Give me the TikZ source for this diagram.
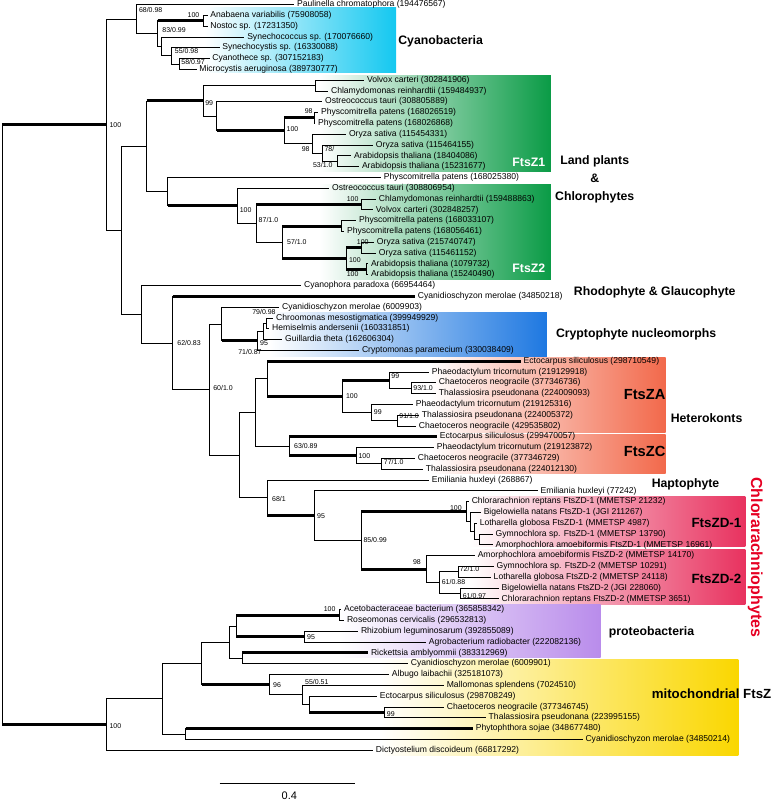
\documentclass[tikz,border=0pt]{standalone}
\usepackage{fontspec}
\setmainfont{Liberation Sans}
\definecolor{cyanobox}{RGB}{20,200,240}
\definecolor{plantbox}{RGB}{10,155,70}
\definecolor{cryptobox}{RGB}{30,120,225}
\definecolor{heterobox}{RGB}{242,105,75}
\definecolor{chlorabox}{RGB}{232,50,95}
\definecolor{proteobox}{RGB}{185,140,235}
\definecolor{mitobox}{RGB}{250,215,0}
\definecolor{chlorared}{RGB}{230,0,35}

\begin{document}
\begin{tikzpicture}[x=1pt, y=-10.83pt,
    font=\fontsize{8.6}{10}\selectfont,
    br/.style={line width=0.75pt},
    thk/.style={line width=3pt},
    leaf/.style={anchor=west, inner xsep=2.6pt, inner ysep=0.5pt},
    bs/.style={font=\fontsize{7}{8}\selectfont, inner sep=0.6pt},
    grp/.style={font=\bfseries\fontsize{12.3}{18}\selectfont, inner sep=0pt},
    big/.style={font=\bfseries\fontsize{14.7}{16}\selectfont, inner sep=0pt},
  ]
  % group boxes (pixel units)
  \begin{scope}[y=-1pt, yshift=4pt]
    \useasboundingbox (0,0) rectangle (778,803);
    \shade[left color=white, right color=cyanobox] (205,7) rectangle (397,72);
    \shade[left color=white, right color=plantbox] (320,75) rectangle (552,171);
    \shade[left color=white, right color=plantbox] (320,184) rectangle (552,280);
    \shade[left color=white, right color=cryptobox] (270,313) rectangle (548,357);
    \shade[left color=white, right color=heterobox] (430,358) rectangle (667,433);
    \shade[left color=white, right color=heterobox] (430,435) rectangle (667,474);
    \shade[left color=white, right color=chlorabox] (470,497) rectangle (747,547);
    \shade[left color=white, right color=chlorabox] (470,550) rectangle (747,605);
    \shade[left color=white, right color=proteobox] (340,605) rectangle (602,658);
    \shade[left color=white, right color=mitobox] (380,660) rectangle (740,757);
  \end{scope}

  % leaves
  \node[leaf] (l0) at (295,0) {Paulinella chromatophora (194476567)};
  \node[leaf] (l1) at (208,1) {Anabaena variabilis (75908058)};
  \node[leaf] (l2) at (208,2) {Nostoc sp. (17231350)};
  \node[leaf] (l3) at (245,3) {Synechococcus sp. (170076660)};
  \node[leaf] (l4) at (220,4) {Synechocystis sp. (16330088)};
  \node[leaf] (l5) at (210,5) {Cyanothece sp. (307152183)};
  \node[leaf] (l6) at (197,6) {Microcystis aeruginosa (389730777)};
  \node[leaf] (l7) at (365,7) {Volvox carteri (302841906)};
  \node[leaf] (l8) at (329,8) {Chlamydomonas reinhardtii (159484937)};
  \node[leaf] (l9) at (323,9) {Ostreococcus tauri (308805889)};
  \node[leaf] (l10) at (319,10) {Physcomitrella patens (168026519)};
  \node[leaf] (l11) at (316,11) {Physcomitrella patens (168026868)};
  \node[leaf] (l12) at (347,12) {Oryza sativa (115454331)};
  \node[leaf] (l13) at (374,13) {Oryza sativa (115464155)};
  \node[leaf] (l14) at (352,14) {Arabidopsis thaliana (18404086)};
  \node[leaf] (l15) at (360,15) {Arabidopsis thaliana (15231677)};
  \node[leaf] (l16) at (382,16) {Physcomitrella patens (168025380)};
  \node[leaf] (l17) at (330,17) {Ostreococcus tauri (308806954)};
  \node[leaf] (l18) at (377,18) {Chlamydomonas reinhardtii (159488863)};
  \node[leaf] (l19) at (374,19) {Volvox carteri (302848257)};
  \node[leaf] (l20) at (357,20) {Physcomitrella patens (168033107)};
  \node[leaf] (l21) at (345,21) {Physcomitrella patens (168056461)};
  \node[leaf] (l22) at (375,22) {Oryza sativa (215740747)};
  \node[leaf] (l23) at (377,23) {Oryza sativa (115461152)};
  \node[leaf] (l24) at (369,24) {Arabidopsis thaliana (1079732)};
  \node[leaf] (l25) at (369,25) {Arabidopsis thaliana (15240490)};
  \node[leaf] (l26) at (302,26) {Cyanophora paradoxa (66954464)};
  \node[leaf] (l27) at (416,27) {Cyanidioschyzon merolae (34850218)};
  \node[leaf] (l28) at (280,28) {Cyanidioschyzon merolae (6009903)};
  \node[leaf] (l29) at (274,29) {Chroomonas mesostigmatica (399949929)};
  \node[leaf] (l30) at (270,30) {Hemiselmis andersenii (160331851)};
  \node[leaf] (l31) at (283,31) {Guillardia theta (162606304)};
  \node[leaf] (l32) at (360,32) {Cryptomonas paramecium (330038409)};
  \node[leaf] (l33) at (522,33) {Ectocarpus siliculosus (298710549)};
  \node[leaf] (l34) at (430,34) {Phaeodactylum tricornutum (219129918)};
  \node[leaf] (l35) at (437,35) {Chaetoceros neogracile (377346736)};
  \node[leaf] (l36) at (437,36) {Thalassiosira pseudonana (224009093)};
  \node[leaf] (l37) at (414,37) {Phaeodactylum tricornutum (219125316)};
  \node[leaf] (l38) at (420,38) {Thalassiosira pseudonana (224005372)};
  \node[leaf] (l39) at (417,39) {Chaetoceros neogracile (429535802)};
  \node[leaf] (l40) at (438,40) {Ectocarpus siliculosus (299470057)};
  \node[leaf] (l41) at (435,41) {Phaeodactylum tricornutum (219123872)};
  \node[leaf] (l42) at (416,42) {Chaetoceros neogracile (377346729)};
  \node[leaf] (l43) at (424,43) {Thalassiosira pseudonana (224012130)};
  \node[leaf] (l44) at (430,44) {Emiliania huxleyi (268867)};
  \node[leaf] (l45) at (539,45) {Emiliania huxleyi (77242)};
  \node[leaf] (l46) at (470,46) {Chlorarachnion reptans FtsZD-1 (MMETSP 21232)};
  \node[leaf] (l47) at (482,47) {Bigelowiella natans FtsZD-1 (JGI 211267)};
  \node[leaf] (l48) at (478,48) {Lotharella globosa FtsZD-1 (MMETSP 4987)};
  \node[leaf] (l49) at (494,49) {Gymnochlora sp. FtsZD-1 (MMETSP 13790)};
  \node[leaf] (l50) at (494,50) {Amorphochlora amoebiformis FtsZD-1 (MMETSP 16961)};
  \node[leaf] (l51) at (476,51) {Amorphochlora amoebiformis FtsZD-2 (MMETSP 14170)};
  \node[leaf] (l52) at (495,52) {Gymnochlora sp. FtsZD-2 (MMETSP 10291)};
  \node[leaf] (l53) at (492,53) {Lotharella globosa FtsZD-2 (MMETSP 24118)};
  \node[leaf] (l54) at (500,54) {Bigelowiella natans FtsZD-2 (JGI 228060)};
  \node[leaf] (l55) at (500,55) {Chlorarachnion reptans FtsZD-2 (MMETSP 3651)};
  \node[leaf] (l56) at (342,56) {Acetobacteraceae bacterium (365858342)};
  \node[leaf] (l57) at (345,57) {Roseomonas cervicalis (296532813)};
  \node[leaf] (l58) at (359,58) {Rhizobium leguminosarum (392855089)};
  \node[leaf] (l59) at (427,59) {Agrobacterium radiobacter (222082136)};
  \node[leaf] (l60) at (369,60) {Rickettsia amblyommii (383312969)};
  \node[leaf] (l61) at (409,61) {Cyanidioschyzon merolae (6009901)};
  \node[leaf] (l62) at (390,62) {Albugo laibachii (325181073)};
  \node[leaf] (l63) at (445,63) {Mallomonas splendens (7024510)};
  \node[leaf] (l64) at (378,64) {Ectocarpus siliculosus (298708249)};
  \node[leaf] (l65) at (445,65) {Chaetoceros neogracile (377346745)};
  \node[leaf] (l66) at (487,66) {Thalassiosira pseudonana (223995155)};
  \node[leaf] (l67) at (474,67) {Phytophthora sojae (348677480)};
  \node[leaf] (l68) at (584,68) {Cyanidioschyzon merolae (34850214)};
  \node[leaf] (l69) at (374,69) {Dictyostelium discoideum (66817292)};

  % inner nodes
  \coordinate (root) at (2,38.866);
  \coordinate (nA) at (107,11.1156);
  \coordinate (nCY) at (137,1.34375);
  \coordinate (nC2) at (158,2.6875);
  \coordinate (nAN) at (204,1.5);
  \coordinate (nC3) at (162,3.875);
  \coordinate (nC4) at (172,4.75);
  \coordinate (nC5) at (180,5.5);
  \coordinate (nP) at (122,20.8875);
  \coordinate (nL) at (147,13.117);
  \coordinate (nF1) at (204,8.9219);
  \coordinate (nVC) at (316,7.5);
  \coordinate (nO) at (217,10.3438);
  \coordinate (nM) at (285,11.6875);
  \coordinate (nPP) at (315,10.5);
  \coordinate (nOA) at (313,12.875);
  \coordinate (nZ) at (323,13.75);
  \coordinate (nAR) at (338,14.5);
  \coordinate (nF2) at (168,17.3125);
  \coordinate (nG) at (238,18.625);
  \coordinate (nH) at (257,20.25);
  \coordinate (nCV) at (362,18.5);
  \coordinate (nK) at (283,22);
  \coordinate (nPP2) at (342,20.5);
  \coordinate (nOA2) at (347,23.5);
  \coordinate (nOR2) at (362,22.5);
  \coordinate (nAR2) at (367,24.5);
  \coordinate (nR) at (142,28.658);
  \coordinate (nS) at (173,31.3155);
  \coordinate (nT) at (210,35.631);
  \coordinate (nCR) at (222,29.5625);
  \coordinate (nCR2) at (258,31.125);
  \coordinate (nCR3) at (264,30.25);
  \coordinate (nCH) at (267,29.5);
  \coordinate (nU) at (240,41.699);
  \coordinate (nV) at (256,37.75);
  \coordinate (nFA) at (268,34.625);
  \coordinate (nX) at (343,36.25);
  \coordinate (nY1) at (390,34.75);
  \coordinate (nY1b) at (412,35.5);
  \coordinate (nY2) at (372,37.75);
  \coordinate (nY2b) at (398,38.5);
  \coordinate (nFC) at (290,40.875);
  \coordinate (nFC2) at (357,41.75);
  \coordinate (nFC3) at (382,42.5);
  \coordinate (nW) at (268,45.6484);
  \coordinate (nW2) at (315,47.2969);
  \coordinate (nZ1) at (362,49.5938);
  \coordinate (nD1) at (467,46.9375);
  \coordinate (nD1b) at (471,47.875);
  \coordinate (nD1c) at (475,48.75);
  \coordinate (nD1d) at (480,49.5);
  \coordinate (nD2) at (427,52.25);
  \coordinate (nD2b) at (440,53.5);
  \coordinate (nD2c) at (459,52.5);
  \coordinate (nD2d) at (461,54.5);
  \coordinate (nB) at (107,66.6172);
  \coordinate (nB1) at (163,64.2344);
  \coordinate (nB2) at (202,60.9688);
  \coordinate (nPR) at (230,59);
  \coordinate (nPR1) at (237,57.5);
  \coordinate (nAC) at (340,56.5);
  \coordinate (nRA) at (305,58.5);
  \coordinate (nPR2) at (243,60.5);
  \coordinate (nMI) at (270,62.9375);
  \coordinate (nMI2) at (303,63.875);
  \coordinate (nMI3) at (310,64.75);
  \coordinate (nMI4) at (385,65.5);
  \coordinate (nB3) at (186,67.5);

  % branches
  \draw[br] (root) |- (nA) (root) |- (nB);
  \draw[br] (nA) |- (nCY) (nA) |- (nP);
  \draw[br] (nCY) |- (l0.west) (nCY) |- (nC2);
  \draw[br] (nC2) |- (nAN) (nC2) |- (nC3);
  \draw[br] (nAN) |- (l1.west) (nAN) |- (l2.west);
  \draw[br] (nC3) |- (l3.west) (nC3) |- (nC4);
  \draw[br] (nC4) |- (l4.west) (nC4) |- (nC5);
  \draw[br] (nC5) |- (l5.west) (nC5) |- (l6.west);
  \draw[br] (nP) |- (nL) (nP) |- (nR);
  \draw[br] (nL) |- (nF1) (nL) |- (nF2);
  \draw[br] (nF1) |- (nVC) (nF1) |- (nO);
  \draw[br] (nVC) |- (l7.west) (nVC) |- (l8.west);
  \draw[br] (nO) |- (l9.west) (nO) |- (nM);
  \draw[br] (nM) |- (nPP) (nM) |- (nOA);
  \draw[br] (nPP) |- (l10.west) (nPP) |- (l11.west);
  \draw[br] (nOA) |- (l12.west) (nOA) |- (nZ);
  \draw[br] (nZ) |- (l13.west) (nZ) |- (nAR);
  \draw[br] (nAR) |- (l14.west) (nAR) |- (l15.west);
  \draw[br] (nF2) |- (l16.west) (nF2) |- (nG);
  \draw[br] (nG) |- (l17.west) (nG) |- (nH);
  \draw[br] (nH) |- (nCV) (nH) |- (nK);
  \draw[br] (nCV) |- (l18.west) (nCV) |- (l19.west);
  \draw[br] (nK) |- (nPP2) (nK) |- (nOA2);
  \draw[br] (nPP2) |- (l20.west) (nPP2) |- (l21.west);
  \draw[br] (nOA2) |- (nOR2) (nOA2) |- (nAR2);
  \draw[br] (nOR2) |- (l22.west) (nOR2) |- (l23.west);
  \draw[br] (nAR2) |- (l24.west) (nAR2) |- (l25.west);
  \draw[br] (nR) |- (l26.west) (nR) |- (nS);
  \draw[br] (nS) |- (l27.west) (nS) |- (nT);
  \draw[br] (nT) |- (nCR) (nT) |- (nU);
  \draw[br] (nCR) |- (l28.west) (nCR) |- (nCR2);
  \draw[br] (nCR2) |- (nCR3) (nCR2) |- (l32.west);
  \draw[br] (nCR3) |- (nCH) (nCR3) |- (l31.west);
  \draw[br] (nCH) |- (l29.west) (nCH) |- (l30.west);
  \draw[br] (nU) |- (nV) (nU) |- (nW);
  \draw[br] (nV) |- (nFA) (nV) |- (nFC);
  \draw[br] (nFA) |- (l33.west) (nFA) |- (nX);
  \draw[br] (nX) |- (nY1) (nX) |- (nY2);
  \draw[br] (nY1) |- (l34.west) (nY1) |- (nY1b);
  \draw[br] (nY1b) |- (l35.west) (nY1b) |- (l36.west);
  \draw[br] (nY2) |- (l37.west) (nY2) |- (nY2b);
  \draw[br] (nY2b) |- (l38.west) (nY2b) |- (l39.west);
  \draw[br] (nFC) |- (l40.west) (nFC) |- (nFC2);
  \draw[br] (nFC2) |- (l41.west) (nFC2) |- (nFC3);
  \draw[br] (nFC3) |- (l42.west) (nFC3) |- (l43.west);
  \draw[br] (nW) |- (l44.west) (nW) |- (nW2);
  \draw[br] (nW2) |- (l45.west) (nW2) |- (nZ1);
  \draw[br] (nZ1) |- (nD1) (nZ1) |- (nD2);
  \draw[br] (nD1) |- (l46.west) (nD1) |- (nD1b);
  \draw[br] (nD1b) |- (l47.west) (nD1b) |- (nD1c);
  \draw[br] (nD1c) |- (l48.west) (nD1c) |- (nD1d);
  \draw[br] (nD1d) |- (l49.west) (nD1d) |- (l50.west);
  \draw[br] (nD2) |- (l51.west) (nD2) |- (nD2b);
  \draw[br] (nD2b) |- (nD2c) (nD2b) |- (nD2d);
  \draw[br] (nD2c) |- (l52.west) (nD2c) |- (l53.west);
  \draw[br] (nD2d) |- (l54.west) (nD2d) |- (l55.west);
  \draw[br] (nB) |- (nB1) (nB) |- (l69.west);
  \draw[br] (nB1) |- (nB2) (nB1) |- (nB3);
  \draw[br] (nB2) |- (nPR) (nB2) |- (nMI);
  \draw[br] (nPR) |- (nPR1) (nPR) |- (nPR2);
  \draw[br] (nPR1) |- (nAC) (nPR1) |- (nRA);
  \draw[br] (nAC) |- (l56.west) (nAC) |- (l57.west);
  \draw[br] (nRA) |- (l58.west) (nRA) |- (l59.west);
  \draw[br] (nPR2) |- (l60.west) (nPR2) |- (l61.west);
  \draw[br] (nMI) |- (l62.west) (nMI) |- (nMI2);
  \draw[br] (nMI2) |- (l63.west) (nMI2) |- (nMI3);
  \draw[br] (nMI3) |- (l64.west) (nMI3) |- (nMI4);
  \draw[br] (nMI4) |- (l65.west) (nMI4) |- (l66.west);
  \draw[br] (nB3) |- (l67.west) (nB3) |- (l68.west);

  % well supported branches
  \draw[thk] (root |- nA) -- (nA);
  \draw[thk] (root |- nB) -- (nB);
  \draw[thk] (nC2 |- nAN) -- (nAN);
  \draw[thk] (nL |- nF1) -- (nF1);
  \draw[thk] (nO |- nM) -- (nM);
  \draw[thk] (nM |- nPP) -- (nPP);
  \draw[thk] (nF2 |- nG) -- (nG);
  \draw[thk] (nH |- nCV) -- (nCV);
  \draw[thk] (nK |- nPP2) -- (nPP2);
  \draw[thk] (nK |- nOA2) -- (nOA2);
  \draw[thk] (nOA2 |- nOR2) -- (nOR2);
  \draw[thk] (nOA2 |- nAR2) -- (nAR2);
  \draw[thk] (nS |- l27.west) -- (l27.west);
  \draw[thk] (nCR |- nCR2) -- (nCR2);
  \draw[thk] (nFA |- l33.west) -- (l33.west);
  \draw[thk] (nFA |- nX) -- (nX);
  \draw[thk] (nX |- nY1) -- (nY1);
  \draw[thk] (nFC |- l40.west) -- (l40.west);
  \draw[thk] (nFC |- nFC2) -- (nFC2);
  \draw[thk] (nW |- nW2) -- (nW2);
  \draw[thk] (nZ1 |- nD1) -- (nD1);
  \draw[thk] (nZ1 |- nD2) -- (nD2);
  \draw[thk] (nPR1 |- nAC) -- (nAC);
  \draw[thk] (nPR1 |- nRA) -- (nRA);
  \draw[thk] (nPR2 |- l60.west) -- (l60.west);
  \draw[thk] (nB2 |- nMI) -- (nMI);
  \draw[thk] (nMI3 |- nMI4) -- (nMI4);
  \draw[thk] (nB3 |- l67.west) -- (l67.west);

  % support values
  \node[bs, anchor=west, xshift=1.5pt, yshift=8.6pt] (b1) at (nCY) {68/0.98};
  \node[bs, anchor=east, xshift=-3.5pt, yshift=6pt] (b2) at (nAN) {100};
  \node[bs, anchor=west, xshift=4pt, yshift=4pt] (b3) at (nC2) {83/0.99};
  \node[bs, anchor=west, xshift=2.5pt, yshift=5pt] (b4) at (nC4) {55/0.98};
  \node[bs, anchor=west, xshift=1pt, yshift=1.5pt] (b5) at (nC5) {58/0.97};
  \node[bs, anchor=west, xshift=2pt] (b6) at (nA) {100};
  \node[bs, anchor=west, xshift=1pt, yshift=-2.5pt] (b7) at (nF1) {99};
  \node[bs, anchor=east, xshift=-1pt, yshift=6.5pt] (b8) at (nPP) {98};
  \node[bs, anchor=west, xshift=1.5pt, yshift=2pt] (b9) at (nM) {100};
  \node[bs, anchor=east, xshift=-2pt, yshift=-5.5pt] (b10) at (nOA) {98};
  \node[bs, anchor=west, xshift=1.5pt, yshift=4.5pt] (b11) at (nZ) {78/};
  \node[bs, anchor=east, xshift=-4pt, yshift=-4pt] (b12) at (nAR) {53/1.0};
  \node[bs, anchor=west, xshift=1.5pt, yshift=-4pt] (b13) at (nG) {100};
  \node[bs, anchor=west, xshift=1.5pt, yshift=3.5pt] (b14) at (nH) {87/1.0};
  \node[bs, anchor=east, xshift=-2pt, yshift=5pt] (b15) at (nCV) {100};
  \node[bs, anchor=west, xshift=4pt] (b16) at (nK) {57/1.0};
  \node[bs, anchor=south, xshift=1.5pt, yshift=2pt] (b17) at (nOR2) {100};
  \node[bs, anchor=west, xshift=2pt, yshift=-1.5pt] (b18) at (nOA2) {100};
  \node[bs, anchor=east, xshift=-7pt, yshift=-5pt] (b19) at (nAR2) {100};
  \node[bs, anchor=west, xshift=4pt] (b20) at (nS) {62/0.83};
  \node[bs, anchor=west, xshift=3pt, yshift=2pt] (b21) at (nT) {60/1.0};
  \node[bs, anchor=north east, xshift=-3pt, yshift=-2pt] (b22) at (l28.west) {79/0.98};
  \node[bs, anchor=west, xshift=2pt, yshift=-2pt] (b23) at (nCR2) {95};
  \node[bs, anchor=north, xshift=-7.5pt, yshift=-8pt] (b24) at (nCR2) {71/0.87};
  \node[bs, anchor=west, xshift=3pt] (b25) at (nX) {100};
  \node[bs, anchor=west, xshift=1.5pt, yshift=4pt] (b26) at (nY1) {99};
  \node[bs, anchor=west, xshift=1.5pt] (b27) at (nY1b) {93/1.0};
  \node[bs, anchor=west, xshift=2pt] (b28) at (nY2) {99};
  \node[bs, anchor=west, xshift=1.5pt, yshift=5pt] (b29) at (nY2b) {91/1.0};
  \node[bs, anchor=west, xshift=4pt] (b30) at (nFC) {63/0.89};
  \node[bs, anchor=west, xshift=1.5pt] (b31) at (nFC2) {100};
  \node[bs, anchor=west, xshift=2pt, yshift=2pt] (b32) at (nFC3) {77/1.0};
  \node[bs, anchor=west, xshift=4pt, yshift=-1.5pt] (b33) at (nW) {68/1};
  \node[bs, anchor=west, xshift=2pt] (b34) at (nW2) {95};
  \node[bs, anchor=west, xshift=1.5pt] (b35) at (nZ1) {85/0.99};
  \node[bs, anchor=east, xshift=-3.5pt, yshift=4pt] (b36) at (nD1) {100};
  \node[bs, anchor=east, xshift=-4.5pt, yshift=7pt] (b37) at (nD2) {98};
  \node[bs, anchor=west, xshift=2pt, yshift=1pt] (b38) at (nD2b) {61/0.88};
  \node[bs, anchor=west, xshift=1pt, yshift=2.5pt] (b39) at (nD2c) {72/1.0};
  \node[bs, anchor=west, xshift=2pt, yshift=-3pt] (b40) at (nD2d) {61/0.97};
  \node[bs, anchor=east, xshift=-3pt, yshift=6pt] (b41) at (nAC) {100};
  \node[bs, anchor=west, xshift=2pt] (b42) at (nRA) {95};
  \node[bs, anchor=west, xshift=3pt] (b43) at (nMI) {96};
  \node[bs, anchor=west, xshift=2pt, yshift=13pt] (b44) at (nMI2) {55/0.51};
  \node[bs, anchor=west, xshift=2pt, yshift=-1.5pt] (b45) at (nMI4) {99};
  \node[bs, anchor=west, xshift=2pt, yshift=-1.5pt] (b46) at (nB) {100};

  % group names and scale (pixel units)
  \begin{scope}[y=-1pt, yshift=4pt]
    \node[grp, anchor=west] (gcyano) at (399,41) {Cyanobacteria};
    \node[grp, text=white] (gz1) at (530,162) {FtsZ1};
    \node[grp, text=white] (gz2) at (530,268) {FtsZ2};
    \node[grp, align=center] (gland) at (596,179) {Land plants\\\&\\Chlorophytes};
    \node[grp, anchor=west] (grhodo) at (575,292) {Rhodophyte \& Glaucophyte};
    \node[grp, anchor=west] (gcrypto) at (557,335) {Cryptophyte nucleomorphs};
    \node[big] (gza) at (646,395) {FtsZA};
    \node[grp, anchor=west] (ghetero) at (672,419) {Heterokonts};
    \node[big] (gzc) at (646,452) {FtsZC};
    \node[grp, anchor=west] (ghapto) at (653,485) {Haptophyte};
    \node[big, font=\bfseries\fontsize{13.4}{15}\selectfont] (gd1) at (718,524) {FtsZD-1};
    \node[big, font=\bfseries\fontsize{13.4}{15}\selectfont] (gd2) at (718,580) {FtsZD-2};
    \node[rotate=-90, text=chlorared, inner sep=0pt,
          font=\bfseries\fontsize{16}{18}\selectfont] (gchlora) at (757,558) {Chlorarachniophytes};
    \node[grp, anchor=west] (gproteo) at (610,633) {proteobacteria};
    \node[grp, anchor=west, font=\bfseries\fontsize{13.3}{15}\selectfont] (gmito) at (653,695) {mitochondrial FtsZ};
    \coordinate (s0) at (220,785);
    \coordinate (s1) at (356,785);
    \draw[line width=1pt] (s0) -- (s1);
    \node[font=\fontsize{11}{12}\selectfont] (sc) at (290,797) {0.4};
  \end{scope}
\end{tikzpicture}
\end{document}
